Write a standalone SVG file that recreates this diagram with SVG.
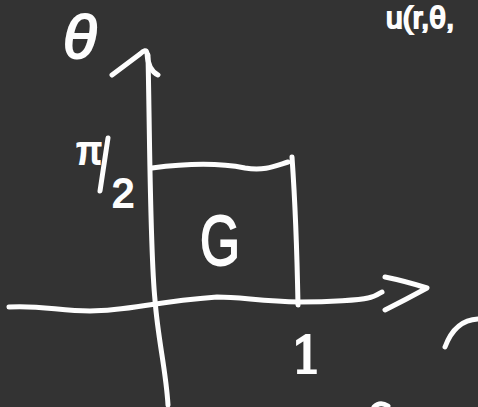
<svg xmlns="http://www.w3.org/2000/svg" width="478" height="407" viewBox="0 0 478 407">
<style>
.s{fill:none;stroke:#fdfdfd;stroke-width:5;stroke-linecap:round;stroke-linejoin:round}
.t{fill:#fdfdfd;stroke:#fdfdfd;stroke-width:2;font-family:"Liberation Sans",sans-serif}
.serif{fill:#fdfdfd;stroke:#fdfdfd;stroke-width:2;font-family:"DejaVu Serif","Liberation Serif",serif}
</style>
<rect width="478" height="407" fill="#333333"/>
<g id="connectors">
<path class="s" d="M148,55 C150,150 150,250 155,300 C158,340 166,370 168,405"/>
<path class="s" d="M112,75 L140,54 Q146,48 147,53 Q148,70 158,75"/>
<path class="s" d="M9,307 C40,305 60,311 90,311 C130,311 150,302 217,297 C240,297 260,301 300,302 C330,302 360,300 368,298 C375,297 380,293 382,292"/>
<path class="s" d="M385,277 Q405,281 427,288 Q405,300 385,310"/>
</g>
<g id="region-G">
<path class="s" d="M152,168 C190,163 220,163 245,168 C265,171 275,166 288,162"/>
<path class="s" d="M292,157 C295,200 297,250 298,305"/>
<text class="t" x="200" y="265" font-size="70" stroke-width="3" textLength="40" lengthAdjust="spacingAndGlyphs">G</text>
</g>
<g id="label-theta"><text class="t" x="63" y="58" font-size="62" font-style="italic">θ</text></g>
<g id="label-pi2">
<text class="t" x="76" y="164" font-size="38">π</text>
<path class="s" d="M108,138 L100,191"/>
<text class="t" x="112" y="207" font-size="40">2</text>
</g>
<g id="label-1"><text class="serif" x="291" y="373" font-size="50">1</text></g>
<g id="top-text"><text class="t" x="386" y="28" font-size="30">u(r,θ,</text></g>
<g id="marks">
<path class="s" d="M478,319 Q455,320 445,347"/>
<path class="s" d="M374,407 Q380,401 388,406"/>
</g>
</svg>
